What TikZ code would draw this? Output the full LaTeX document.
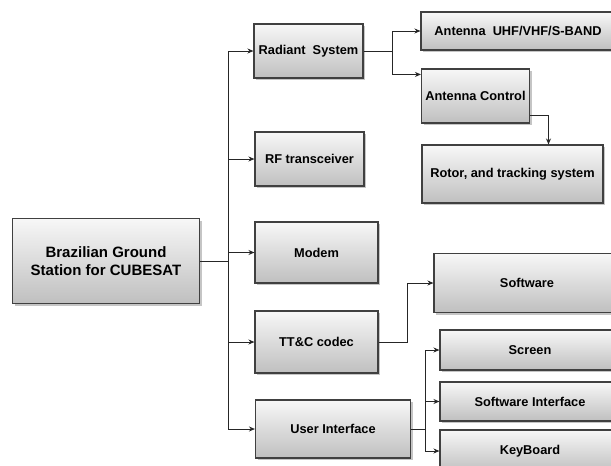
\documentclass[tikz,border=0pt]{standalone}
\usepackage{fontspec}
\setmainfont{Liberation Sans}
\usetikzlibrary{shadows,arrows.meta}
\tikzset{
  box/.style={draw=black!75, line width=1.1pt, top color=gray!6, bottom color=gray!50,
    drop shadow={shadow xshift=2pt, shadow yshift=-2pt, fill=black!45, opacity=0.5},
    font=\bfseries\fontsize{12.8}{15}\selectfont, align=center, inner sep=0pt},
  lnk/.style={line width=1pt, draw=black!85},
  arr/.style={lnk, -{Stealth[length=6pt,width=5pt]}}
}
\begin{document}
\begin{tikzpicture}[x=1pt,y=-1pt]
\fill[white] (0,0) rectangle (611,466);
\useasboundingbox (0,0) rectangle (611,466);
\clip (0,0) rectangle (611,466);
% main column
\node[box, minimum width=187pt, minimum height=85pt, font=\bfseries\fontsize{15}{18}\selectfont] (main) at (106,261) {Brazilian Ground\\Station for CUBESAT};
\node[box, minimum width=109pt, minimum height=54pt] (rad) at (308.5,51) {Radiant\ \ System};
\node[box, minimum width=109pt, minimum height=54pt] (rf) at (309.5,159) {RF transceiver};
\node[box, minimum width=123pt, minimum height=61pt] (modem) at (316.5,252.5) {Modem};
\node[box, minimum width=123pt, minimum height=62pt] (ttc) at (316.5,342) {TT\&C codec};
\node[box, minimum width=155pt, minimum height=58pt] (ui) at (333,429) {User Interface};
% right column
\node[box, minimum width=194pt, minimum height=38pt] (ant) at (518,31) {Antenna\ \ UHF/VHF/S-BAND};
\node[box, minimum width=108pt, minimum height=54pt] (actl) at (475.5,96) {Antenna Control};
\node[box, minimum width=181pt, minimum height=58pt] (rot) at (512.5,174) {Rotor, and tracking system};
\node[box, minimum width=186pt, minimum height=59pt] (sw) at (527,283) {Software};
\node[box, minimum width=180pt, minimum height=40pt] (scr) at (530,350) {Screen};
\node[box, minimum width=180pt, minimum height=39pt] (swi) at (530,401.5) {Software Interface};
\node[box, minimum width=180pt, minimum height=42pt] (kb) at (530,451) {KeyBoard};
% trunk
\coordinate (tr) at (228,261);
\draw[lnk] (main.east) -- (tr);
\draw[arr] (tr) |- (rad.west);
\draw[arr] (tr) |- (rf.west);
\draw[arr] (tr) |- (modem.west);
\draw[arr] (tr) |- (ttc.west);
\draw[arr] (tr) |- (ui.west);
% radiant branch
\coordinate (rb) at (392,51);
\draw[lnk] (rad.east) -- (rb);
\draw[arr] (rb) |- (ant.west);
\draw[arr] (rb) |- ([yshift=-6pt]actl.north west);
\draw[arr] ([yshift=8pt]actl.south east) -| ([xshift=36pt]rot.north);
% tt&c
\draw[arr] (ttc.east) -- ++(29,0) |- (sw.west);
% user interface branch
\coordinate (ub) at (425,429);
\draw[lnk] (ui.east) -- (ub);
\draw[arr] (ub) |- (scr.west);
\draw[arr] (ub) |- (swi.west);
\draw[arr] (ub) |- (kb.west);
\end{tikzpicture}
\end{document}
